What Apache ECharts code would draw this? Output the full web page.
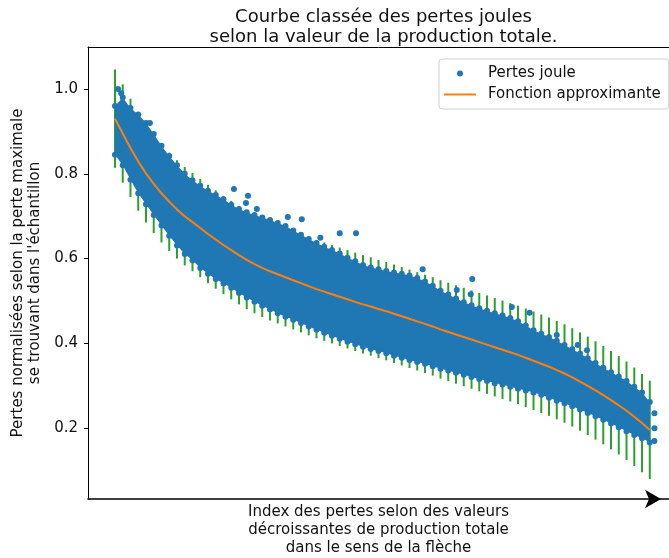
<!DOCTYPE html>
<html><head><meta charset="utf-8">
<script src="https://cdn.jsdelivr.net/npm/echarts@6/dist/echarts.min.js"></script>
<style>html,body{margin:0;padding:0;background:#fff}#c{width:669px;height:558px}</style>
</head><body><div id="c"></div>
<script>
// ---- text ----
const titleText = "Courbe classée des pertes joules\nselon la valeur de la production totale.";
const yAxisName = "Pertes normalisées selon la perte maximale\nse trouvant dans l'échantillon";
const xAxisName = "Index des pertes selon des valeurs\ndécroissantes de production totale\ndans le sens de la flèche";
const seriesNames = ["Pertes joule", "Fonction approximante"];
const yTicks = [0.2, 0.4, 0.6, 0.8, 1.0];

// ---- data (index = position of each error bar, 0..69) ----
const curveValues = [
  0.93, 0.895, 0.861, 0.829, 0.801, 0.776, 0.754, 0.734, 0.716, 0.70,
  0.686, 0.672, 0.658, 0.645, 0.632, 0.62, 0.608, 0.597, 0.587, 0.578,
  0.57, 0.563, 0.556, 0.549, 0.542, 0.535, 0.528, 0.522, 0.516, 0.51,
  0.504, 0.498, 0.492, 0.487, 0.481, 0.476, 0.47, 0.464, 0.458, 0.452,
  0.446, 0.44, 0.433, 0.427, 0.421, 0.415, 0.409, 0.403, 0.397, 0.391,
  0.385, 0.379, 0.373, 0.366, 0.359, 0.352, 0.345, 0.337, 0.329, 0.32,
  0.31, 0.3, 0.289, 0.278, 0.266, 0.254, 0.241, 0.227, 0.212, 0.196
];
const errorHalf = 0.116;
const bandUpper = [
  0.96, 0.98, 0.955, 0.94, 0.92, 0.894, 0.866, 0.842, 0.82, 0.80,
  0.785, 0.772, 0.76, 0.75, 0.74, 0.727, 0.717, 0.709, 0.703, 0.697,
  0.691, 0.684, 0.677, 0.666, 0.656, 0.646, 0.637, 0.628, 0.62, 0.612,
  0.602, 0.594, 0.585, 0.579, 0.575, 0.571, 0.567, 0.564, 0.56, 0.554,
  0.546, 0.536, 0.524, 0.515, 0.506, 0.497, 0.49, 0.483, 0.477, 0.471,
  0.466, 0.46, 0.452, 0.442, 0.431, 0.423, 0.415, 0.406, 0.396, 0.386,
  0.376, 0.365, 0.354, 0.342, 0.332, 0.322, 0.311, 0.298, 0.284, 0.262
];
const bandLower = [
  0.845, 0.82, 0.786, 0.754, 0.728, 0.703, 0.678, 0.654, 0.631, 0.611,
  0.596, 0.578, 0.564, 0.552, 0.541, 0.531, 0.519, 0.508, 0.498, 0.489,
  0.48, 0.471, 0.463, 0.456, 0.448, 0.44, 0.432, 0.425, 0.418, 0.411,
  0.404, 0.398, 0.392, 0.387, 0.382, 0.377, 0.371, 0.366, 0.361, 0.356,
  0.352, 0.346, 0.34, 0.336, 0.331, 0.326, 0.321, 0.316, 0.311, 0.306,
  0.303, 0.298, 0.293, 0.289, 0.284, 0.279, 0.272, 0.265, 0.259, 0.252,
  0.244, 0.236, 0.228, 0.22, 0.211, 0.202, 0.193, 0.184, 0.176, 0.166
];
const outliers = [
  [0.4, 1.0], [0.8, 0.99], [3.5, 0.92], [4.5, 0.92],
  [15.35, 0.764], [17.16, 0.748], [16.9, 0.731], [18.3, 0.717], [22.3, 0.698],
  [24.1, 0.693], [26.5, 0.649], [29.0, 0.66], [31.1, 0.66], [39.7, 0.575],
  [44.1, 0.526], [45.9, 0.516], [46.1, 0.552], [51.2, 0.486], [53.5, 0.472],
  [57.0, 0.42], [59.7, 0.396], [60.9, 0.384], [60.0, 0.36], [63.0, 0.342],
  [67.7, 0.274], [69.6, 0.235], [69.6, 0.2], [69.6, 0.17]
];

const BLUE = '#1f77b4', ORANGE = '#ff7f0e', GREEN = '#2ca02c';
const FONT = 'DejaVu Sans';

const scatterData = bandUpper.map((v, i) => [i, v])
  .concat(bandLower.map((v, i) => [i, v]))
  .concat(outliers);

const chart = echarts.init(document.getElementById('c'), null, {renderer: 'canvas'});
const axisCommon = {min: -3.48, max: 71.48};
chart.setOption({
  animation: false,
  backgroundColor: '#fff',
  title: {
    text: titleText, left: 378.5, top: 2, textAlign: 'center',
    textStyle: {fontFamily: FONT, fontSize: 18, fontWeight: 'normal', color: '#111', lineHeight: 20}
  },
  legend: {
    data: [
      {name: seriesNames[0], icon: 'circle'},
      {name: seriesNames[1], itemStyle: {opacity: 0}}
    ],
    orient: 'vertical', left: 439, top: 59,
    itemWidth: 32, itemHeight: 6, itemGap: 6,
    padding: [7, 8, 7, 4],
    backgroundColor: '#fff', borderColor: '#d0d0d0', borderWidth: 1, borderRadius: 3,
    textStyle: {fontFamily: FONT, fontSize: 15, color: '#111', padding: [0, 0, 0, 7]}
  },
  grid: {left: 88, right: 0, top: 47, bottom: 59, outerBoundsMode: 'none'},
  xAxis: [
    Object.assign({
      type: 'value', position: 'bottom',
      name: xAxisName, nameLocation: 'middle', nameGap: 4,
      nameTextStyle: {fontFamily: FONT, fontSize: 15, color: '#111', lineHeight: 18, verticalAlign: 'top'},
      axisLine: {show: true, lineStyle: {color: '#000', width: 1.5},
        symbol: ['none', 'arrow'], symbolSize: [14, 16], symbolOffset: [0, -8]},
      axisTick: {show: false}, axisLabel: {show: false}, splitLine: {show: false}
    }, axisCommon),
    Object.assign({
      type: 'value', position: 'top',
      axisLine: {show: true, onZero: false, lineStyle: {color: '#000', width: 1}},
      axisTick: {show: false}, axisLabel: {show: false}, splitLine: {show: false}
    }, axisCommon)
  ],
  yAxis: {
    type: 'value', min: 0.033, max: 1.099,
    name: yAxisName, nameLocation: 'middle', nameGap: 43,
    nameTextStyle: {fontFamily: FONT, fontSize: 15, color: '#111', lineHeight: 17},
    axisLine: {show: true, onZero: false, lineStyle: {color: '#000', width: 1}},
    axisTick: {show: true, length: 4, customValues: yTicks, lineStyle: {color: '#000'}},
    axisLabel: {customValues: yTicks, margin: 10, fontFamily: FONT, fontSize: 15, color: '#111',
      formatter: v => v.toFixed(1)},
    splitLine: {show: false}
  },
  series: [
    {
      type: 'custom', name: 'errorbars', z: 1, silent: true, clip: false,
      renderItem(params, api) {
        const i = api.value(0), c = api.value(1);
        const p1 = api.coord([i, c - errorHalf]);
        const p2 = api.coord([i, c + errorHalf]);
        return {type: 'line', shape: {x1: p1[0], y1: p1[1], x2: p2[0], y2: p2[1]},
          style: {stroke: GREEN, lineWidth: 2}};
      },
      data: curveValues.map((v, i) => [i, v])
    },
    {
      type: 'custom', name: 'band', z: 2, silent: true, clip: false,
      renderItem(params, api) {
        const pts = [];
        for (let i = 0; i < bandUpper.length; i++) pts.push(api.coord([i, bandUpper[i]]));
        for (let i = bandLower.length - 1; i >= 0; i--) pts.push(api.coord([i, bandLower[i]]));
        return {type: 'polygon', shape: {points: pts}, style: {fill: BLUE}};
      },
      data: [[0, 0.5]]
    },
    {
      type: 'scatter', name: seriesNames[0], z: 3, symbol: 'circle', symbolSize: 6,
      itemStyle: {color: BLUE, opacity: 1}, data: scatterData
    },
    {
      type: 'line', name: seriesNames[1], z: 4, symbol: 'none', smooth: false,
      lineStyle: {color: ORANGE, width: 2}, itemStyle: {color: ORANGE},
      data: curveValues.map((v, i) => [i, v])
    }
  ]
});
</script></body></html>
